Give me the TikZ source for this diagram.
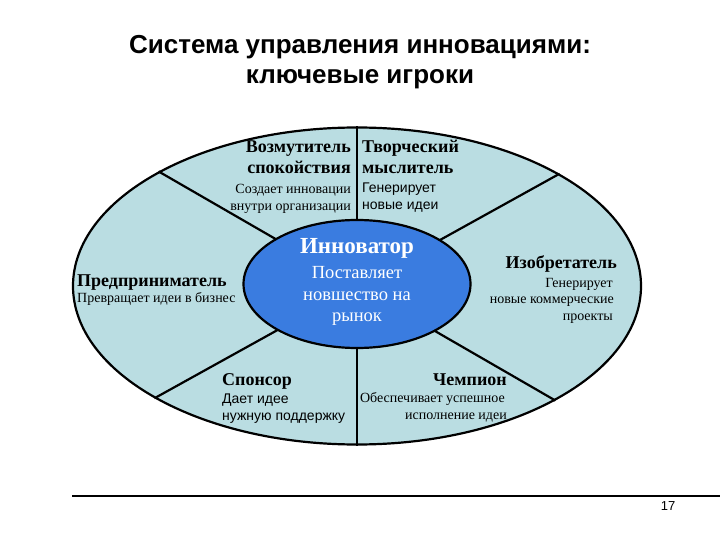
\documentclass[tikz,border=0pt]{standalone}
\usepackage{fontspec}
\setmainfont{Liberation Serif}
\newfontfamily\sansf{Liberation Sans}
\usetikzlibrary{shapes.geometric}
\definecolor{outerfill}{RGB}{186,221,226}
\definecolor{innerfill}{RGB}{58,124,224}
\begin{document}
\begin{tikzpicture}[x=1pt,y=-1pt,
  hd/.style={font=\fontsize{18}{20}\selectfont\bfseries, inner sep=0pt},
  sm/.style={font=\fontsize{14}{16}\selectfont, inner sep=0pt},
  ss/.style={font=\sansf\fontsize{14}{16}\selectfont, inner sep=0pt},
  ttl/.style={font=\sansf\bfseries\fontsize{26}{28}\selectfont, inner sep=0pt},
  divider/.style={line width=2.2pt, draw=black},
  wt/.style={text=white, inner sep=0pt}]
\useasboundingbox (0,0) rectangle (720,540);
\fill[white] (0,0) rectangle (720,540);
% title
\node[ttl, anchor=base] (t1) at (360,54) {Система управления инновациями:};
\node[ttl, anchor=base] (t2) at (360,84) {ключевые игроки};
% outer ellipse
\node[ellipse, draw, line width=2.2pt, fill=outerfill, minimum width=568pt, minimum height=317pt, inner sep=0pt] (outer) at (357,286) {};
% dividers
\draw[divider] (outer.90) -- (outer.center);
\draw[divider] (outer.270) -- (outer.center);
\draw[divider] (outer.150.7) -- (outer.center);
\draw[divider] (outer.29.3) -- (outer.center);
\draw[divider] (outer.209.3) -- (outer.center);
\draw[divider] (outer.330.7) -- (outer.center);
% inner ellipse
\node[ellipse, draw, line width=2.2pt, fill=innerfill, minimum width=227pt, minimum height=128pt, inner sep=0pt] (inner) at (357,284) {};
\node[wt, font=\fontsize{23}{25}\selectfont\bfseries, anchor=base] (i1) at (357,253) {Инноватор};
\node[wt, font=\fontsize{18.5}{20}\selectfont, anchor=base] (i2) at (357,278) {Поставляет};
\node[wt, font=\fontsize{18.5}{20}\selectfont, anchor=base] (i3) at (357,300) {новшество на};
\node[wt, font=\fontsize{18.5}{20}\selectfont, anchor=base] (i4) at (357,321) {рынок};
% top-left
\node[hd, anchor=base east] (a1) at (351,153) {Возмутитель};
\node[hd, anchor=base east] (a2) at (351,174) {спокойствия};
\node[sm, anchor=base east] (a3) at (351,194) {Создает инновации};
\node[sm, anchor=base east] (a4) at (351,211) {внутри организации};
% top-right
\node[hd, anchor=base west] (b1) at (362,153) {Творческий};
\node[hd, anchor=base west] (b2) at (362,174) {мыслитель};
\node[ss, anchor=base west] (b3) at (362,193) {Генерирует};
\node[ss, anchor=base west] (b4) at (362,210) {новые идеи};
% left
\node[hd, anchor=base west] (c1) at (77,286) {Предприниматель};
\node[sm, anchor=base west] (c2) at (77,302) {Превращает идеи в бизнес};
% right
\node[hd, anchor=base east] (d1) at (617,268) {Изобретатель};
\node[sm, anchor=base east] (d2) at (613,287) {Генерирует};
\node[sm, anchor=base east] (d3) at (614,303) {новые коммерческие};
\node[sm, anchor=base east] (d4) at (613,320) {проекты};
% bottom-left
\node[hd, anchor=base west] (e1) at (222,385) {Спонсор};
\node[ss, anchor=base west] (e2) at (222,403) {Дает идее};
\node[ss, anchor=base west] (e3) at (222,420) {нужную поддержку};
% bottom-right
\node[hd, anchor=base east] (f1) at (507,385) {Чемпион};
\node[sm, anchor=base east] (f2) at (505,402) {Обеспечивает успешное};
\node[sm, anchor=base east] (f3) at (507,419) {исполнение идеи};
% footer
\coordinate (fl) at (72,496);
\coordinate (fr) at (720,496);
\draw[line width=1.2pt] (fl) -- (fr);
\node[font=\sansf\fontsize{13}{15}\selectfont, inner sep=0pt, anchor=base] (pg) at (668,510) {17};
\end{tikzpicture}
\end{document}
